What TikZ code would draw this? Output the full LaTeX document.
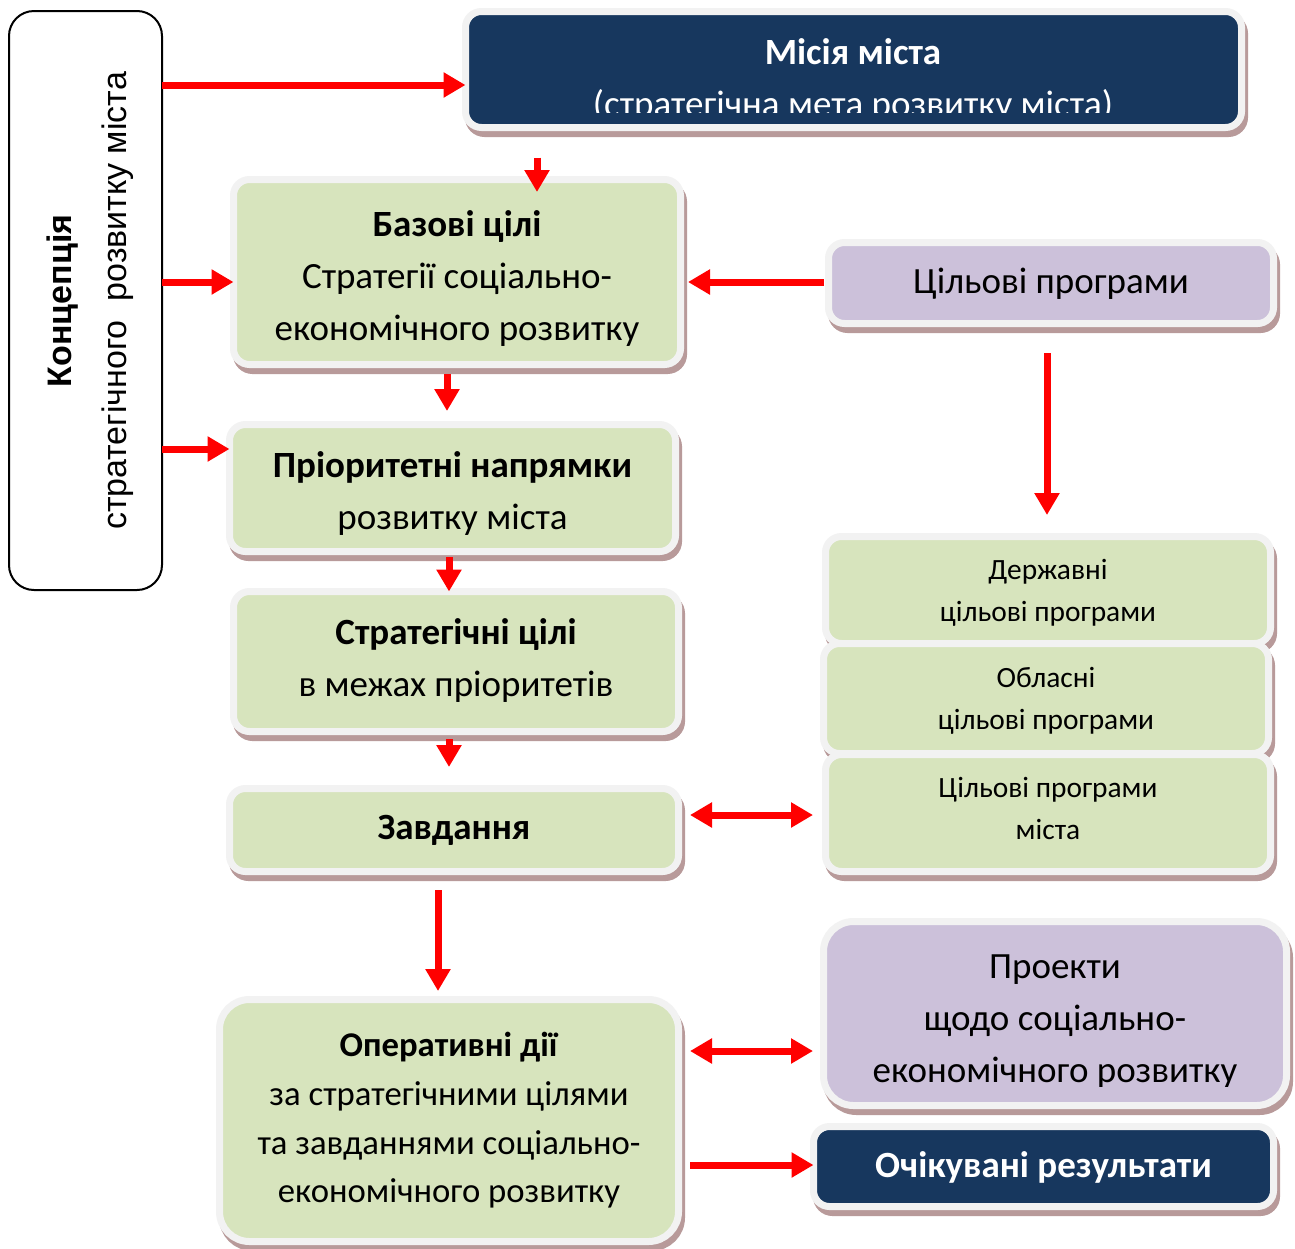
\documentclass[tikz,border=0pt]{standalone}
\usepackage{fontspec}
\setmainfont{Carlito}
\newfontfamily\arialf{Liberation Sans}
\usetikzlibrary{arrows.meta}
\definecolor{navyc}{HTML}{17375E}
\definecolor{greenc}{HTML}{D7E4BD}
\definecolor{purplec}{HTML}{CCC1DA}
\definecolor{framec}{HTML}{F2F2F2}
\definecolor{shadowc}{HTML}{B89A9A}
\definecolor{redc}{HTML}{FF0000}
\newcommand{\bigf}{\fontsize{37}{52}\selectfont}
\newcommand{\opsf}{\fontsize{34.7}{48.7}\selectfont}
\newcommand{\smallf}{\fontsize{29.4}{42}\selectfont}
\newcommand{\leftf}{\arialf\fontsize{34}{55}\selectfont}
% #1 = downward shift in pt, #2 = lines
\newcommand{\btxt}[2]{\raisebox{-#1pt}[\height][\depth]{\begin{tabular}{@{}c@{}}#2\end{tabular}}}
\tikzset{
  boxbase/.style={rounded corners=16pt, line width=7pt, draw=framec, inner sep=0pt, outer sep=0pt, align=center,
    preaction={draw=shadowc, fill=shadowc, line width=7pt, transform canvas={shift={(3pt,-6pt)}}}},
  greenbox/.style={boxbase, fill=greenc},
  purplebox/.style={boxbase, fill=purplec},
  navybox/.style={boxbase, fill=navyc, text=white},
  arr/.style={draw=redc, line width=7pt, -{Triangle[width=24pt,length=22pt]}},
  darr/.style={draw=redc, line width=7pt, {Triangle[width=24pt,length=22pt]}-{Triangle[width=24pt,length=22pt]}},
}
\begin{document}
\begin{tikzpicture}[x=1pt,y=-1pt]
\useasboundingbox[fill=white] (0,0) rectangle (1295,1248);

% left concept box
\node[draw=black, line width=2pt, rounded corners=25pt, fill=white, minimum width=153pt, minimum height=579pt, inner sep=0pt, outer sep=0pt] (left) at (85.5,300.5) {};
\node[rotate=90, align=center, font=\leftf] (lefttxt) at (90,301) {\textbf{Концепція}\\стратегічного\ \ розвитку міста};

% mission
\node[navybox, minimum width=776pt, minimum height=116pt] (mission) at (853.5,69.5) {};
\begin{scope}
\clip (465,11) rectangle (1242,112);
\node[text=white, font=\bigf, inner sep=0pt] (missiontxt) at (853,80.4) {\btxt{0}{\textbf{Місія міста}\\(стратегічна мета розвитку міста)}};
\end{scope}

% left column
\node[greenbox, minimum width=447pt, minimum height=185pt, font=\bigf] (basic) at (457,272) {\btxt{6}{\textbf{Базові цілі}\\Стратегії соціально-\\економічного розвитку}};
\node[greenbox, minimum width=446pt, minimum height=127pt, font=\bigf] (prio) at (452.5,488) {\btxt{5}{\textbf{Пріоритетні напрямки}\\розвитку міста}};
\node[greenbox, minimum width=445pt, minimum height=140pt, font=\bigf] (strat) at (456,661.5) {\btxt{-1.5}{\textbf{Стратегічні цілі}\\в межах пріоритетів}};
\node[greenbox, minimum width=449pt, minimum height=83pt, font=\bigf] (task) at (454,830) {\btxt{-1}{\textbf{Завдання}}};
\node[greenbox, rounded corners=30pt, minimum width=459pt, minimum height=242pt, font=\opsf] (ops) at (449,1120.5) {\btxt{-0.5}{\textbf{Оперативні дії}\\за стратегічними цілями\\та завданнями соціально-\\економічного розвитку}};

% right column
\node[purplebox, minimum width=445pt, minimum height=81pt, font=\bigf] (prog) at (1051,283) {\btxt{0}{Цільові програми}};
\node[greenbox, minimum width=445pt, minimum height=107pt, font=\smallf] (state) at (1048,590) {\btxt{2}{Державні\\цільові програми}};
\node[greenbox, minimum width=445pt, minimum height=110pt, font=\smallf] (oblast) at (1046,698.5) {\btxt{1.5}{Обласні\\цільові програми}};
\node[greenbox, minimum width=445pt, minimum height=117pt, font=\smallf] (city) at (1048,813) {\btxt{-2.5}{Цільові програми\\міста}};
\node[purplebox, rounded corners=30pt, minimum width=463pt, minimum height=184pt] (proj) at (1055,1013.5) {};
\begin{scope}
\clip (820,920) rectangle (1290,1086);
\node[font=\bigf, inner sep=0pt] (projtxt) at (1055,1019.9) {\btxt{0}{Проекти\\щодо соціально-\\економічного розвитку}};
\end{scope}
\node[navybox, minimum width=460pt, minimum height=80pt, font=\bigf] (results) at (1043.5,1166.5) {\btxt{1}{\textbf{Очікувані результати}}};

% arrows
\draw[arr] (left.east |- 0,85) -- (mission.west |- 0,85);
\draw[arr] (left.east |- 0,282) -- (basic.west |- 0,282);
\draw[arr] (left.east |- 0,449) -- (prio.west |- 0,449);
\draw[arr, shorten <=30pt, shorten >=-12.5pt] (mission.south -| 537,0) -- (basic.north -| 537,0);
\draw[arr, shorten <=4.5pt, shorten >=7.5pt] (prog.west |- 0,282) -- (basic.east |- 0,282);
\draw[arr, shorten <=9.5pt, shorten >=13.5pt] (basic.south -| 447,0) -- (prio.north -| 447,0);
\draw[arr, shorten <=5.5pt] (prio.south -| 449,0) -- (strat.north -| 449,0);
\draw[arr, shorten <=7.5pt, shorten >=21.5pt] (strat.south -| 449,0) -- (task.north -| 449,0);
\draw[arr, shorten <=18.5pt, shorten >=8.5pt] (task.south -| 438,0) -- (ops.north -| 438,0);
\draw[arr, shorten <=29.5pt, shorten >=21.5pt] (prog.south -| 1047,0) -- (state.north -| 1047,0);
\draw[darr, shorten <=11.5pt, shorten >=12.5pt] (task.east |- 0,815) -- (city.west |- 0,815);
\draw[darr, shorten <=11.5pt, shorten >=10.5pt] (ops.east |- 0,1051) -- (proj.west |- 0,1051);
\draw[arr, shorten <=11.5pt] (ops.east |- 0,1165) -- (results.west |- 0,1165);
\end{tikzpicture}
\end{document}
